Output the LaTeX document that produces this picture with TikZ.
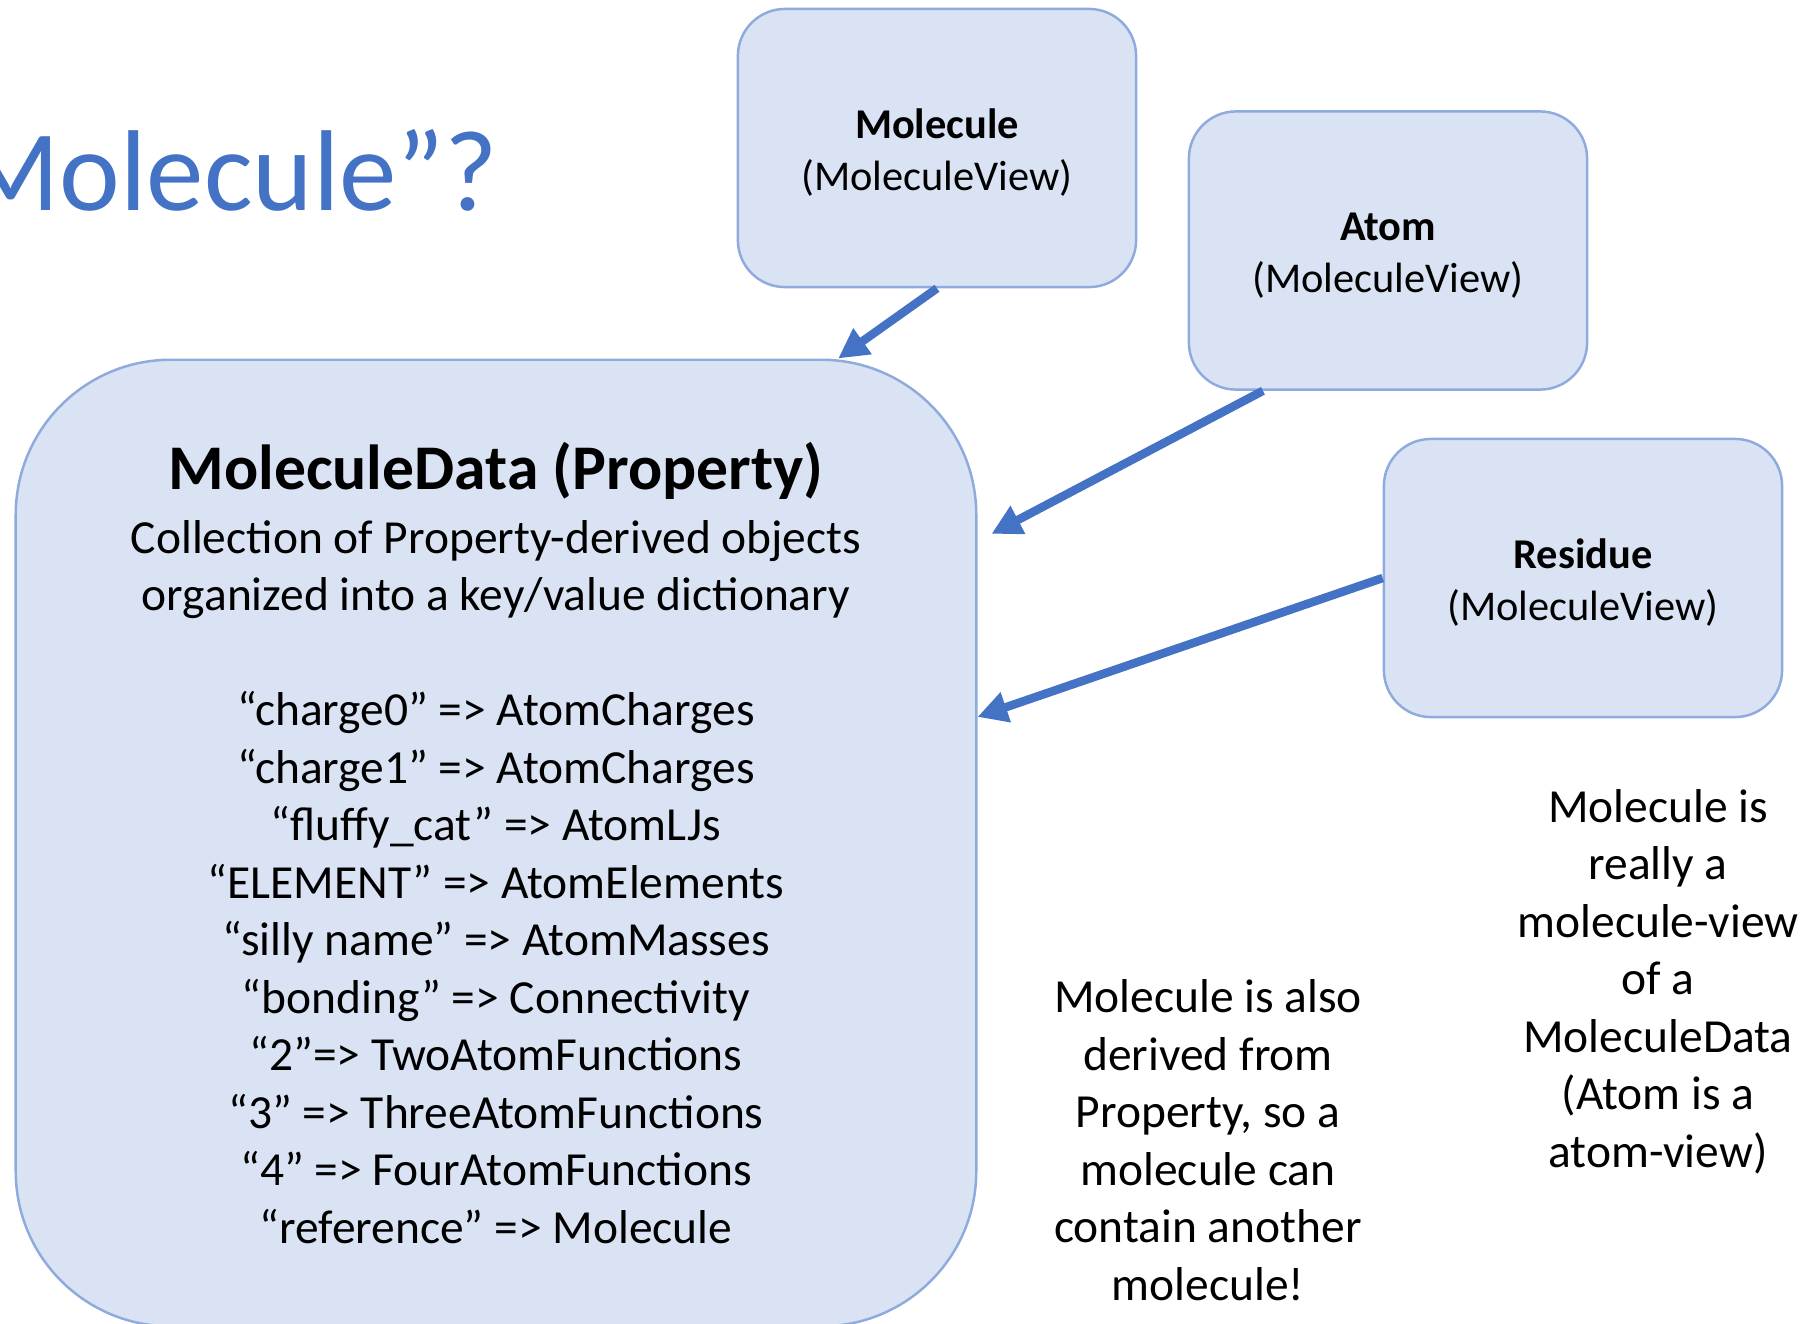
\documentclass[tikz,border=0pt]{standalone}
\usepackage{fontspec}
\setmainfont{Carlito}
\usetikzlibrary{arrows.meta}
\definecolor{boxfill}{HTML}{DAE3F3}
\definecolor{boxline}{HTML}{8FAADC}
\definecolor{accent}{HTML}{4472C4}
\newcommand{\firstline}{\rule{0pt}{11pt}}
\begin{document}
\begin{tikzpicture}[x=0.01cm,y=-0.01cm,
  viewbox/.style={draw=boxline, line width=0.7pt, fill=boxfill,
    rounded corners=0.47cm, minimum width=3.98cm, minimum height=2.78cm,
    align=center, inner sep=0pt, font=\fontsize{12.06pt}{14.8pt}\selectfont},
  databox/.style={draw=boxline, line width=0.7pt, fill=boxfill,
    rounded corners=1.55cm, minimum width=9.60cm, minimum height=9.66cm,
    inner sep=0pt},
  feed/.style={draw=accent, line width=2.42pt,
    -{Triangle[length=8.5pt,width=8.5pt]}},
  bodytext/.style={align=center, inner sep=0pt,
    font=\fontsize{13.5pt}{16.36pt}\selectfont},
]
\useasboundingbox (0,0) rectangle (1805,1323);

% heading, partly running off the left edge
\node[anchor=base east, inner sep=0pt, text=accent,
      font=\fontsize{32.7pt}{39pt}\selectfont] (head) at (499,210) {Molecule”?};

% the data container
\node[databox] (md) at (496,843) {};
\node[inner sep=0pt, font=\fontsize{18.1pt}{22pt}\selectfont\bfseries] (mdtitle) at (496,471)
  {MoleculeData (Property)};
\node[bodytext] (mdbody) at (496,882) {%
  Collection of Property-derived objects\\
  organized into a key/value dictionary\\
  \mbox{}\\
  “charge0” => AtomCharges\\
  “charge1” => AtomCharges\\
  “fluffy\_cat” => AtomLJs\\
  “ELEMENT” => AtomElements\\
  “silly name” => AtomMasses\\
  “bonding” => Connectivity\\
  “2”=> TwoAtomFunctions\\
  “3” => ThreeAtomFunctions\\
  “4” => FourAtomFunctions\\
  “reference” => Molecule};

% the views
\node[viewbox] (mol) at (937,148) {\firstline\textbf{Molecule}\\(MoleculeView)};
\node[viewbox] (atom) at (1388,250.5) {\firstline\textbf{Atom}\\(MoleculeView)};
\node[viewbox] (res) at (1583,578) {\firstline\textbf{Residue}\\(MoleculeView)};

% views point at the data
\draw[feed] (mol.south) -- ([xshift=3.42cm]md.north);
\draw[feed] ([xshift=-1.25cm]atom.south) -- ([xshift=0.14cm,yshift=3.09cm]md.east);
\draw[feed] (res.west) -- ([yshift=1.26cm]md.east);

% notes
\node[bodytext] (note1) at (1208,1140) {Molecule is also\\derived from\\Property, so a\\molecule can\\contain another\\molecule!};
\node[bodytext] (note2) at (1658,981.5) {Molecule is\\really a\\molecule-view\\of a\\MoleculeData\\(Atom is a\\atom-view)};
\end{tikzpicture}
\end{document}
